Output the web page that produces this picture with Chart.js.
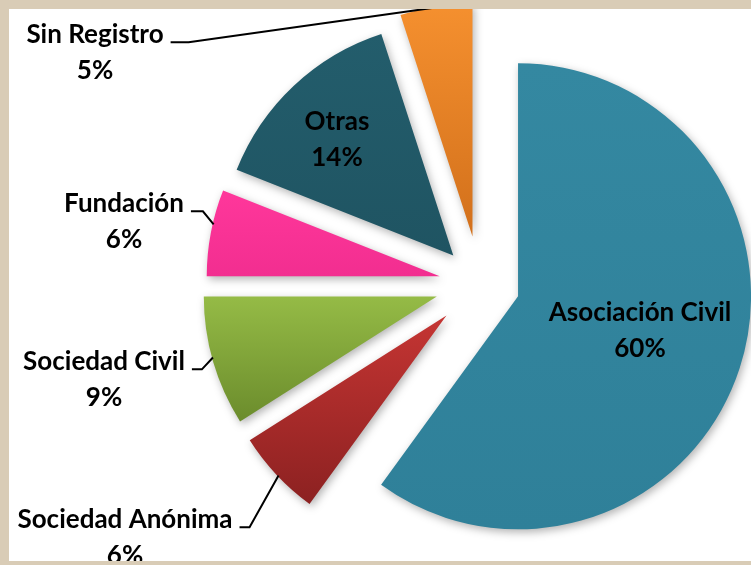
<!DOCTYPE html>
<html>
<head>
<meta charset="utf-8">
<script src="https://cdn.jsdelivr.net/npm/chart.js@4.4.1/dist/chart.umd.min.js"></script>
<style>
    html, body { margin: 0; padding: 0; }
    body {
        width: 751px;
        height: 565px;
        overflow: hidden;
        position: relative;
        background: #d9ccb6;
    }
    .panel {
        position: absolute;
        left: 9px;
        top: 9px;
        width: 742px;
        height: 552px;
        background: #fff;
        overflow: hidden;
    }
    .panel canvas {
        position: absolute;
        left: -9px;
        top: -9px;
    }
</style>
</head>
<body>
<div class="panel">
    <canvas id="pieChart" width="751" height="565"></canvas>
</div>
<script>
const categories = ['Asociación Civil', 'Sociedad Anónima', 'Sociedad Civil', 'Fundación', 'Otras', 'Sin Registro'];
const shares = [60, 6, 9, 6, 14, 5];

// light / dark stop of each slice
const sliceColors = [
    ['#3488a1', '#2f8099'],
    ['#c53533', '#8c2121'],
    ['#95bb46', '#6b8c2c'],
    ['#ff379b', '#f22e90'],
    ['#235d6c', '#1f5462'],
    ['#f5902f', '#d2701b']
];

const PIE_RADIUS = 233;
// how far each slice is pulled out
const explodeBy = [40, 46, 45, 41, 39, 48];
const FONT_SIZE = 26;
const FONT = 'bold ' + FONT_SIZE + 'px Lato';
const LINE_GAP = 36;

// label centre relative to the pie centre; leader = fraction along the slice arc
const labelSpots = [
    { dx: 160, dy: 28 },
    { dx: -355, dy: 235, leader: 0.48, stub: 10 },
    { dx: -376, dy: 77, leader: 0.53, stub: 10 },
    { dx: -356, dy: -81, leader: 0.6, stub: 12 },
    { dx: -143, dy: -163 },
    { dx: -385, dy: -250, leader: 0.54, stub: 18 }
];

function sliceAngles(i) {
    const total = shares.reduce((a, b) => a + b, 0);
    const before = shares.slice(0, i).reduce((a, b) => a + b, 0);
    const a0 = -Math.PI / 2 + before / total * Math.PI * 2;
    const a1 = a0 + shares[i] / total * Math.PI * 2;
    return [a0, a1];
}

function sliceFill(context) {
    const chart = context.chart;
    const i = context.dataIndex;
    const area = chart.chartArea;
    if (!area) return sliceColors[i][0];
    const cy = (area.top + area.bottom) / 2;
    const [a0, a1] = sliceAngles(i);
    const ys = [cy, cy + Math.sin(a0) * PIE_RADIUS, cy + Math.sin(a1) * PIE_RADIUS];
    [Math.PI / 2, Math.PI * 1.5].forEach(a => {
        if (a > a0 && a < a1) ys.push(cy + Math.sin(a) * PIE_RADIUS);
    });
    const g = chart.ctx.createLinearGradient(0, Math.min(...ys), 0, Math.max(...ys));
    g.addColorStop(0, sliceColors[i][0]);
    g.addColorStop(1, sliceColors[i][1]);
    return g;
}

function pushOut(arc, i) {
    const mid = (arc.startAngle + arc.endAngle) / 2;
    return [Math.cos(mid) * explodeBy[i], Math.sin(mid) * explodeBy[i]];
}

// draws every arc pushed out along its middle angle, with a soft shadow
const explodePlugin = {
    id: 'explode',
    beforeDatasetDraw(chart, args) {
        const ctx = chart.ctx;
        args.meta.data.forEach((arc, i) => {
            const [ox, oy] = pushOut(arc, i);
            ctx.save();
            ctx.translate(ox, oy);
            ctx.shadowColor = 'rgba(0, 0, 0, 0.3)';
            ctx.shadowBlur = 8;
            ctx.shadowOffsetX = 2;
            ctx.shadowOffsetY = 3;
            arc.draw(ctx);
            ctx.restore();
        });
        return false;
    }
};

const labelPlugin = {
    id: 'sliceLabels',
    afterDraw(chart) {
        const ctx = chart.ctx;
        const arcs = chart.getDatasetMeta(0).data;
        if (!arcs.length) return;
        const cx = arcs[0].x;
        const cy = arcs[0].y;
        const capH = FONT_SIZE * 0.72;

        ctx.save();
        ctx.font = FONT;
        ctx.fillStyle = '#000';
        ctx.textAlign = 'center';
        ctx.textBaseline = 'alphabetic';

        categories.forEach((name, i) => {
            const spot = labelSpots[i];
            const x = cx + spot.dx;
            const y = cy + spot.dy;
            ctx.fillText(name, x, y + capH / 2);
            ctx.fillText(shares[i] + '%', x, y + LINE_GAP + capH / 2);

            if (spot.leader !== undefined) {
                const arc = arcs[i];
                const [ox, oy] = pushOut(arc, i);
                const a = arc.startAngle + spot.leader * (arc.endAngle - arc.startAngle);
                const ex = arc.x + ox + Math.cos(a) * (arc.outerRadius - 1);
                const ey = arc.y + oy + Math.sin(a) * (arc.outerRadius - 1);
                const w = ctx.measureText(name).width;
                const sx = x + w / 2 + 7;
                const sy = y + capH / 2 - 1;
                ctx.beginPath();
                ctx.moveTo(sx, sy);
                ctx.lineTo(sx + spot.stub, sy);
                ctx.lineTo(ex, ey);
                ctx.strokeStyle = '#000';
                ctx.lineWidth = 2;
                ctx.stroke();
            }
        });
        ctx.restore();
    }
};

new Chart(document.getElementById('pieChart'), {
    type: 'pie',
    data: {
        labels: categories,
        datasets: [{
            data: shares,
            backgroundColor: sliceFill,
            borderWidth: 0
        }]
    },
    options: {
        responsive: false,
        animation: false,
        radius: PIE_RADIUS,
        layout: {
            padding: { left: 209, right: 0, top: 3, bottom: 0 }
        },
        plugins: {
            legend: { display: false },
            tooltip: { enabled: false }
        }
    },
    plugins: [explodePlugin, labelPlugin]
});
</script>
</body>
</html>
